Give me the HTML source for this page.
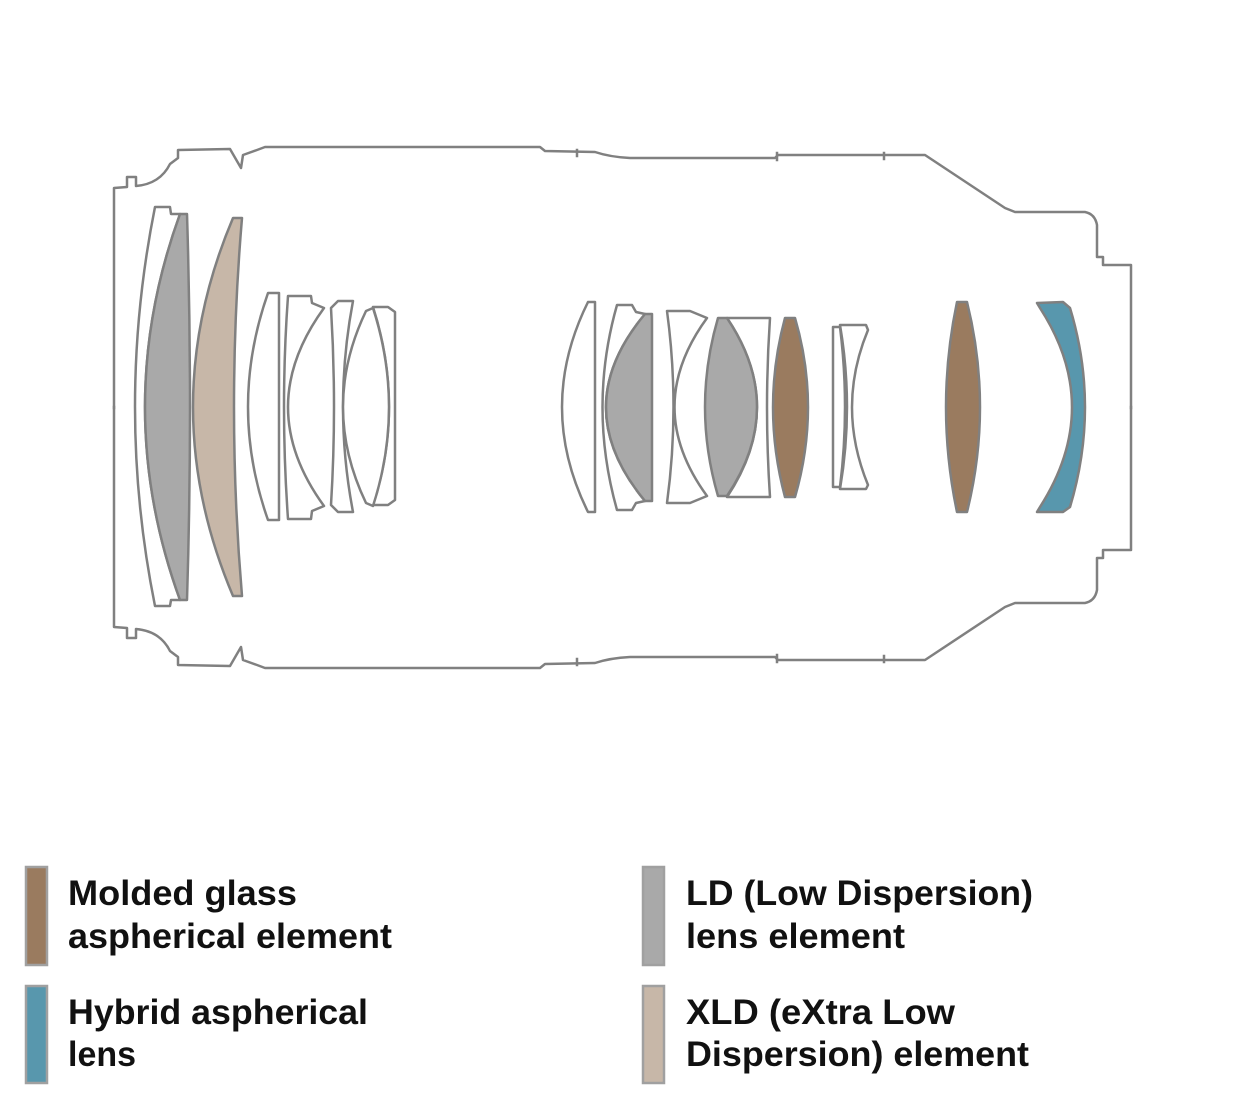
<!DOCTYPE html>
<html><head><meta charset="utf-8"><style>html,body{margin:0;padding:0;background:#fff}svg{display:block}</style></head><body>
<svg width="1245" height="1105" viewBox="0 0 1245 1105" xmlns="http://www.w3.org/2000/svg">
<g fill="none" stroke="#808080" stroke-width="2.5" stroke-linejoin="round" stroke-linecap="square">
<path id="top" d="M114,408 L114,188 L127,187 L127,177 L136,177 L136,186 Q160,184 170,164 L178,158 L178,150 L230,149 L241,168 L243,155 L257,150 L265,147 L540,147 L545,151 L595,152 Q610,157 630,158 L775,158 L778,155 L925,155 L1005,208 L1015,212 L1085,212 Q1095,214 1097,225 L1097,257 L1103,257 L1103,265 L1131,265 L1131,408"/>
<use href="#top" transform="translate(0,815) scale(1,-1)"/>
<path d="M577,150 L577,156 M777,153 L777,160 M884,153 L884,159 M577,665 L577,659 M777,662 L777,655 M884,662 L884,656"/>
</g>
<g stroke="#808080" stroke-width="2.5" stroke-linejoin="round">
<path fill="#fff" d="M155,207 L170,207 L171,214 L180,214 Q110,407 180,600 L171,600 L170,606 L155,606 Q115,407 155,207 Z"/>
<path fill="#a9a9a9" d="M180,214 L187,214 Q193,407 187,600 L180,600 Q110,407 180,214 Z"/>
<path fill="#c7b7a8" d="M233,218 L242,218 Q226,407 242,596 L233,596 Q153,407 233,218 Z"/>
<path fill="#fff" d="M268,293 L279,293 L279,520 L268,520 Q228,407 268,293 Z"/>
<path fill="#fff" d="M288,296 L311,296 L312,303 L324,308 Q252,407 324,506 L312,511 L311,519 L288,519 Q280,407 288,296 Z"/>
<path fill="#fff" d="M338,301 L353,301 Q333,407 353,512 L338,512 L331,505 Q337,407 331,308 Z"/>
<path fill="#fff" d="M373,307 L388,307 L395,312 L395,500 L388,505 L373,505 Q405,407 373,307 Z"/>
<path fill="#fff" d="M366,311 L373,308 Q405,407 373,506 L366,503 Q320,407 366,311 Z"/>
<path fill="#fff" d="M588,302 L595,302 L595,512 L588,512 Q536,407 588,302 Z"/>
<path fill="#fff" d="M617,305 L632,305 L636,312 L645,314 Q567,407 645,501 L636,503 L632,510 L617,510 Q588,407 617,305 Z"/>
<path fill="#a9a9a9" d="M645,314 L652,314 L652,501 L645,501 Q567,407 645,314 Z"/>
<path fill="#fff" d="M667,311 L690,311 L707,318 Q642,407 707,496 L690,503 L667,503 Q680,407 667,311 Z"/>
<path fill="#fff" d="M727,318 L770,318 Q764,407 770,497 L727,497 Q787,407 727,318 Z"/>
<path fill="#a9a9a9" d="M718,318 L727,318 Q787,407 727,496 L718,496 Q692,407 718,318 Z"/>
<path fill="#9a7b5f" d="M785,318 L795,318 Q821,407 795,497 L785,497 Q761,407 785,318 Z"/>
<path fill="#fff" d="M833,327 L840,327 Q850,407 840,487 L833,487 Z"/>
<path fill="#fff" d="M840,325 L866,325 L868,330 Q836,407 868,485 L866,489 L840,489 Q854,407 840,325 Z"/>
<path fill="#9a7b5f" d="M957,302 L967,302 Q993,407 967,512 L957,512 Q935,407 957,302 Z"/>
<path fill="#5897ad" d="M1040,308 L1037,303 L1063,302 L1070,308 Q1100,407 1070,507 L1063,512 L1037,512 L1040,507 Q1104,407 1040,308 Z"/>
</g>
<g stroke="#a0a0a0" stroke-width="2.5">
<rect x="26" y="867" width="21" height="98" fill="#9a7b5f"/>
<rect x="26" y="986" width="21" height="97" fill="#5897ad"/>
<rect x="643" y="867" width="21" height="98" fill="#a9a9a9"/>
<rect x="643" y="986" width="21" height="97" fill="#c7b7a8"/>
</g>
<g font-family="Liberation Sans, sans-serif" font-weight="bold" font-size="35" fill="#111">
<text x="68" y="905" textLength="229" lengthAdjust="spacingAndGlyphs">Molded glass</text>
<text x="68" y="948" textLength="324" lengthAdjust="spacingAndGlyphs">aspherical element</text>
<text x="68" y="1024" textLength="300" lengthAdjust="spacingAndGlyphs">Hybrid aspherical</text>
<text x="68" y="1066" textLength="68" lengthAdjust="spacingAndGlyphs">lens</text>
<text x="686" y="905" textLength="347" lengthAdjust="spacingAndGlyphs">LD (Low Dispersion)</text>
<text x="686" y="948" textLength="219" lengthAdjust="spacingAndGlyphs">lens element</text>
<text x="686" y="1024" textLength="269" lengthAdjust="spacingAndGlyphs">XLD (eXtra Low</text>
<text x="686" y="1066" textLength="343" lengthAdjust="spacingAndGlyphs">Dispersion) element</text>
</g>
</svg>
</body></html>
